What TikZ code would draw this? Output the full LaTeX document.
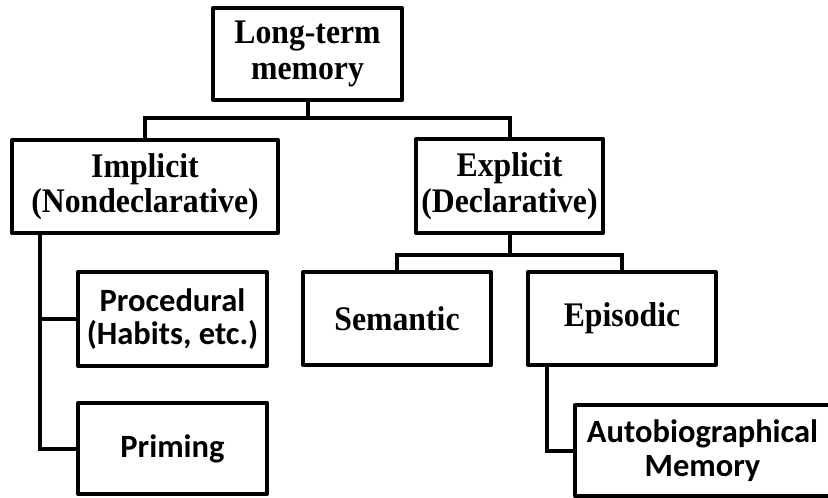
\documentclass[tikz,border=0pt]{standalone}
\usepackage{fontspec}
\setmainfont{Liberation Serif}[FakeStretch=0.92]
\newfontfamily\calfont{Carlito}
\begin{document}
\begin{tikzpicture}[x=1pt,y=-1pt,
  box/.style={draw=black, line width=4pt, line join=round, inner sep=0pt, align=center, fill=white},
  serifbox/.style={box, font=\fontsize{34.5}{35.5}\selectfont\bfseries},
  sansbox/.style={box, font=\calfont\fontsize{32.5}{33.5}\selectfont\bfseries},
  conn/.style={draw=black, line width=4pt, line join=miter}]
\useasboundingbox (0,0) rectangle (828,498);
\begin{scope}
\clip (0,0) rectangle (828,498);
\node[serifbox, minimum width=189pt, minimum height=92pt] (ltm) at (307.5,54) {Long-term\\memory};
\node[serifbox, minimum width=266pt, minimum height=93pt] (impl) at (145,186.5) {Implicit\\(Nondeclarative)};
\node[serifbox, minimum width=187pt, minimum height=94pt] (expl) at (509.5,186) {Explicit\\(Declarative)};
\node[sansbox, minimum width=189pt, minimum height=94pt] (proc) at (172.5,319) {Procedural\\(Habits, etc.)};
\node[sansbox, minimum width=189pt, minimum height=91pt] (prim) at (172.5,448.5) {Priming};
\node[serifbox, minimum width=188pt, minimum height=93pt] (sem) at (397,318.5) {Semantic};
\node[serifbox, minimum width=188pt, minimum height=93pt] (epi) at (622,318.5) {Episodic};
\node[sansbox, minimum width=255pt, minimum height=91pt] (auto) at (702.5,450.5) {Autobiographical\\Memory};

\coordinate (b1) at (0,118);
\coordinate (b2) at (0,255);
\coordinate (s1) at (40,0);
\coordinate (s2) at (547,0);

\draw[conn] (ltm.south) -- (ltm.south |- b1);
\draw[conn] (impl.north) -- (impl.north |- b1) -- (expl.north |- b1) -- (expl.north);

\draw[conn] (impl.south -| s1) -- (s1 |- prim.west) -- (prim.west);
\draw[conn] (s1 |- proc.west) -- (proc.west);

\draw[conn] (expl.south) -- (expl.south |- b2);
\draw[conn] (sem.north) -- (sem.north |- b2) -- (epi.north |- b2) -- (epi.north);

\draw[conn] (epi.south -| s2) -- (s2 |- auto.west) -- (auto.west);
\end{scope}
\end{tikzpicture}
\end{document}
